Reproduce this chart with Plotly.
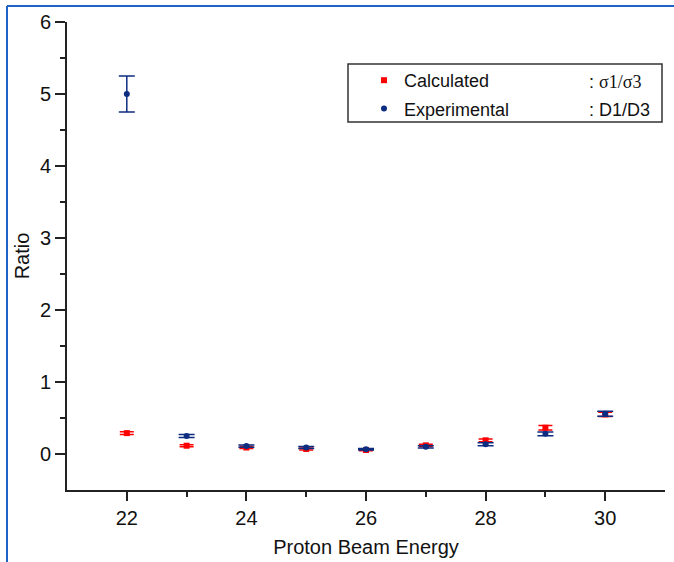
import plotly.graph_objects as go

energy = [22, 23, 24, 25, 26, 27, 28, 29, 30]
calc_ratio = [0.29, 0.115, 0.09, 0.07, 0.055, 0.12, 0.19, 0.365, 0.55]
calc_err = [0.02, 0.015, 0.015, 0.015, 0.01, 0.015, 0.02, 0.03, 0.03]
exp_ratio = [5.0, 0.25, 0.11, 0.09, 0.065, 0.10, 0.135, 0.28, 0.56]
exp_err = [0.25, 0.02, 0.015, 0.015, 0.01, 0.015, 0.02, 0.025, 0.035]

RED = "#ff0000"
BLUE = "#0d2d80"
FONT = "Liberation Sans, Arial, sans-serif"

fig = go.Figure()
fig.add_trace(go.Scatter(
    x=energy, y=calc_ratio, mode="markers", name="Calculated", legendgroup="calc",
    marker=dict(symbol="square", size=6, color=RED),
    error_y=dict(type="data", array=calc_err, visible=True, color=RED, thickness=1.5, width=7),
))
fig.add_trace(go.Scatter(
    x=energy, y=exp_ratio, mode="markers", name="Experimental", legendgroup="exp",
    marker=dict(symbol="circle", size=6, color=BLUE),
    error_y=dict(type="data", array=exp_err, visible=True, color=BLUE, thickness=1.5, width=8),
))

L, R, T, B = 67, 9, 22, 72
W, H = 674, 562
pw, ph = W - L - R, H - T - B

def px(xp):
    return (xp - L) / pw

def py(yp):
    return (H - B - yp) / ph

fig.update_layout(
    width=W, height=H,
    margin=dict(l=L, r=R, t=T, b=B, autoexpand=False),
    paper_bgcolor="white", plot_bgcolor="white",
    font=dict(family=FONT, size=20, color="#111"),
    showlegend=True,
    legend=dict(x=px(364), y=py(62), xanchor="left", yanchor="top",
                bgcolor="rgba(0,0,0,0)", font=dict(size=18, family=FONT),
                tracegroupgap=2, itemwidth=30),
    xaxis=dict(range=[21, 31], showgrid=False, zeroline=False, automargin=False,
               showline=True, linecolor="#222", linewidth=2,
               tickmode="array", tickvals=[22, 24, 26, 28, 30],
               ticks="outside", ticklen=9, tickwidth=2, tickcolor="#222",
               minor=dict(tickvals=[23, 25, 27, 29], ticks="outside", ticklen=5,
                          tickwidth=2, tickcolor="#222"),
               tickfont=dict(size=20),
               title=dict(text="Proton Beam Energy", font=dict(size=20), standoff=12)),
    yaxis=dict(range=[-0.5, 6], showgrid=False, zeroline=False, automargin=False,
               showline=True, linecolor="#222", linewidth=2,
               tickmode="array", tickvals=[0, 1, 2, 3, 4, 5, 6],
               ticks="outside", ticklen=10, tickwidth=2, tickcolor="#222",
               minor=dict(tickvals=[0.5, 1.5, 2.5, 3.5, 4.5, 5.5], ticks="outside",
                          ticklen=5, tickwidth=2, tickcolor="#222"),
               tickfont=dict(size=20),
               title=dict(text="Ratio", font=dict(size=20), standoff=5)),
)

# legend frame
fig.add_shape(type="rect", xref="paper", yref="paper",
              x0=px(348), x1=px(662), y0=py(122), y1=py(64),
              line=dict(color="#333", width=1.5), fillcolor="rgba(0,0,0,0)")
# legend suffix texts
fig.add_annotation(xref="paper", yref="paper", x=px(587), y=py(82), xanchor="left",
                   yanchor="middle", showarrow=False,
                   text=": <span style='font-family:Liberation Serif, serif'>σ1/σ3</span>",
                   font=dict(size=18, family=FONT, color="#111"))
fig.add_annotation(xref="paper", yref="paper", x=px(587), y=py(110), xanchor="left",
                   yanchor="middle", showarrow=False, text=": D1/D3",
                   font=dict(size=18, family=FONT, color="#111"))
# outer blue frame (top and left edges visible)
fig.add_shape(type="line", xref="paper", yref="paper",
              x0=px(7), x1=px(680), y0=py(6), y1=py(6),
              line=dict(color="#1f62c8", width=2))
fig.add_shape(type="line", xref="paper", yref="paper",
              x0=px(7), x1=px(7), y0=py(6), y1=py(570),
              line=dict(color="#1f62c8", width=2))

fig.write_html("out.html", config={"displayModeBar": False},
               post_script="document.body.style.margin='0';document.body.style.overflow='hidden';")
